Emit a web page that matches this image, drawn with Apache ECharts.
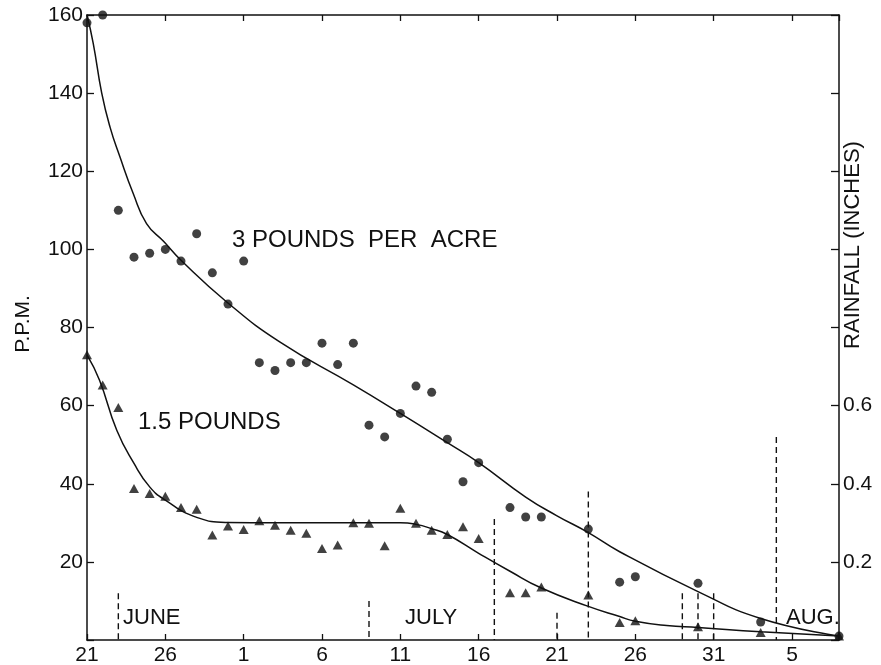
<!DOCTYPE html>
<html><head><meta charset="utf-8">
<script src="https://cdn.jsdelivr.net/npm/echarts@6/dist/echarts.min.js"></script>
<style>html,body{margin:0;padding:0;background:#fff}#c{width:881px;height:665px}</style>
</head><body><div id="c"></div>
<script>
// Day index: 0 = June 21
const xTickLabels = ["21","26","1","6","11","16","21","26","31","5"];

// 3 pounds per acre (circles)
const rate3Days = [0,1,2,3,4,5,6,7,8,9,10,11,12,13,14,15,16,17,18,19,20,21,22,23,24,25,27,28,29,32,34,35,39,43,48];
const rate3Ppm  = [158,160,110,98,99,100,97,104,94,86,97,71,69,71,71,76,70.5,76,55,52,58,65,63.4,51.4,40.5,45.4,33.9,31.5,31.5,28.4,14.8,16.2,14.5,4.6,1];

// 1.5 pounds (triangles)
const rate15Days = [0,1,2,3,4,5,6,7,8,9,10,11,12,13,14,15,16,17,18,19,20,21,22,23,24,25,27,28,29,32,34,35,39,43,48];
const rate15Ppm  = [73,65.3,59.5,38.8,37.5,36.8,33.9,33.5,26.9,29.2,28.3,30.5,29.4,28.1,27.3,23.4,24.3,30,29.9,24.1,33.7,29.9,28.1,27,29,26,12.1,12.1,13.6,11.5,4.5,4.9,3.4,1.9,1];

// Fitted curves
const curve3Days = [0,0.4,0.94,1.47,2.1,2.95,3.8,4.9,6,8.9,12.3,17,20,23,25,28,30,32,34,39,43,48];
const curve3Ppm  = [160,152.7,140,131.3,123.7,114.3,106.6,102,97.2,86.6,76.3,65.3,58,50.5,45.4,36.6,31.8,27.5,22.6,12.4,5.5,1];
const curve15Days = [0,0.8,1.9,3,4,5,7,9,12,16,20,21,22,23,25,27,29,32,34,35,37,39,43,48];
const curve15Ppm  = [73,66.5,53.7,45.2,39.2,35.8,31.4,30.1,30,30,30,29.6,28.5,27,22.2,17.6,13.3,8.6,6,4.8,3.7,3.2,2.1,1];

// Rainfall (inches)
const rainDays = [2,18,26,30,32,38,39,40,44];
const rainInches = [0.12,0.10,0.31,0.07,0.38,0.12,0.12,0.12,0.52];

const zip = (a,b) => a.map((v,i)=>[v,b[i]]);
const INK = '#111';
const FONT = 'Liberation Sans';

const chart = echarts.init(document.getElementById('c'), null, {renderer:'canvas'});
const axisLineStyle = {color: INK, width: 1.5};
const tickStyle = {color: INK, width: 1.3};
chart.setOption({
  animation: false,
  backgroundColor: '#fff',
  grid: {left: 87, right: 42, top: 15, bottom: 25, containLabel: false, outerBoundsMode: 'none'},
  xAxis: [
    {type:'value', position:'bottom', min:0, max:48, interval:5,
     axisLine:{show:true, onZero:false, lineStyle:axisLineStyle},
     axisTick:{show:true, inside:true, length:6, lineStyle:tickStyle},
     axisLabel:{fontFamily:FONT, fontSize:21, color:INK, margin:5, showMaxLabel:false,
       formatter: v => { const i = Math.round(v/5); return (Math.abs(v - i*5) < 1e-6 && xTickLabels[i]) ? xTickLabels[i] : ''; }},
     splitLine:{show:false}},
    {type:'value', position:'top', min:0, max:48, interval:5,
     axisLine:{show:true, onZero:false, lineStyle:axisLineStyle},
     axisTick:{show:true, inside:true, length:6, lineStyle:tickStyle},
     axisLabel:{show:false}, splitLine:{show:false}}
  ],
  yAxis: [
    {type:'value', position:'left', min:0, max:160, interval:20,
     axisLine:{show:true, onZero:false, lineStyle:axisLineStyle},
     axisTick:{show:true, inside:true, length:7, lineStyle:tickStyle},
     axisLabel:{fontFamily:FONT, fontSize:21, color:INK, margin:4, formatter: v => v === 0 ? '' : String(v)},
     splitLine:{show:false}},
    {type:'value', position:'right', min:0, max:1.6, interval:0.2,
     axisLine:{show:true, onZero:false, lineStyle:axisLineStyle},
     axisTick:{show:true, inside:true, length:8, lineStyle:tickStyle},
     axisLabel:{fontFamily:FONT, fontSize:21, color:INK, margin:4,
       formatter: v => { const r = Math.round(v*10)/10; return (r > 0 && r < 0.7) ? r.toFixed(1) : ''; }},
     splitLine:{show:false}}
  ],
  series: [
    {name:'Rainfall', type:'custom', xAxisIndex:0, yAxisIndex:1, data: zip(rainDays, rainInches),
     renderItem: (params, api) => {
       const top = api.coord([api.value(0), api.value(1)]);
       const bot = api.coord([api.value(0), 0]);
       return {type:'line', shape:{x1:top[0], y1:top[1], x2:bot[0], y2:bot[1]},
               style:{stroke:INK, lineWidth:1.4, lineDash:[6,4]}};
     }},
    {name:'3 lb curve', type:'line', data: zip(curve3Days, curve3Ppm), showSymbol:false, smooth:0.5,
     lineStyle:{color:INK, width:1.5}, z:3},
    {name:'1.5 lb curve', type:'line', data: zip(curve15Days, curve15Ppm), showSymbol:false, smooth:0.5,
     lineStyle:{color:INK, width:1.5}, z:3},
    {name:'3 pounds per acre', type:'scatter', data: zip(rate3Days, rate3Ppm), symbol:'circle', symbolSize:9,
     itemStyle:{color:INK}, clip:false, z:4},
    {name:'1.5 pounds', type:'scatter', data: zip(rate15Days, rate15Ppm), symbol:'triangle', symbolSize:[10,9],
     itemStyle:{color:INK}, clip:false, z:4}
  ],
  graphic: [
    {type:'text', x:23, y:324, rotation:Math.PI/2, style:{text:'P.P.M.', fontFamily:FONT, fontSize:21, fill:INK, align:'center', verticalAlign:'middle'}},
    {type:'text', x:853, y:245, rotation:Math.PI/2, style:{text:'RAINFALL (INCHES)', fontFamily:FONT, fontSize:22, fill:INK, align:'center', verticalAlign:'middle'}},
    {type:'text', x:232, y:240, style:{text:'3 POUNDS  PER  ACRE', fontFamily:FONT, fontSize:24, fill:INK, align:'left', verticalAlign:'middle'}},
    {type:'text', x:138, y:422, style:{text:'1.5 POUNDS', fontFamily:FONT, fontSize:24, fill:INK, align:'left', verticalAlign:'middle'}},
    {type:'text', x:123, y:618, style:{text:'JUNE', fontFamily:FONT, fontSize:22, fill:INK, align:'left', verticalAlign:'middle'}},
    {type:'text', x:405, y:618, style:{text:'JULY', fontFamily:FONT, fontSize:22, fill:INK, align:'left', verticalAlign:'middle'}},
    {type:'text', x:786, y:618, style:{text:'AUG.', fontFamily:FONT, fontSize:22, fill:INK, align:'left', verticalAlign:'middle'}}
  ]
});
</script></body></html>
